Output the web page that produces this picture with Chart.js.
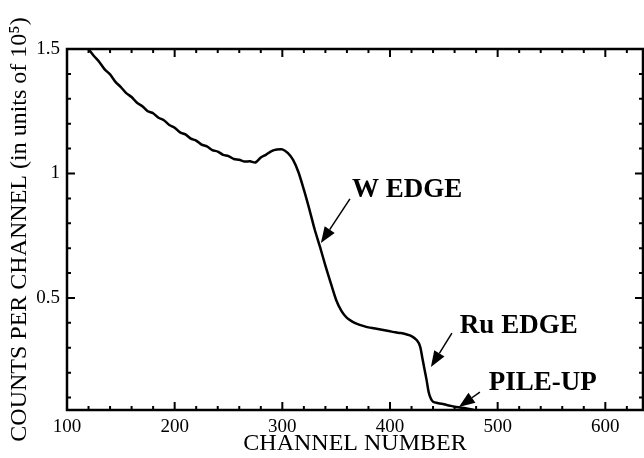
<!DOCTYPE html>
<html>
<head>
<meta charset="utf-8">
<script src="https://cdn.jsdelivr.net/npm/chart.js@4"></script>
<style>
  body { margin: 0; background: white; }
  #wrap { width: 644px; height: 458px; position: relative; }
</style>
</head>
<body>
<div id="wrap"><canvas id="espectro"></canvas></div>
<script>
// channel numbers and counts (units of 1e5)
const canales = [120,125,130,135,140,145,150,155,160,165,170,175,180,185,190,195,200,205,210,215,220,225,230,235,240,245,250,255,260,265,270,275,280,285,290,295,300,305,310,315,320,325,330,335,340,345,350,355,360,365,370,375,380,385,390,395,400,405,410,415,420,425,428,430,432,434,436,438,440,445,450,455,460,465,470,475,478];
const cuentas = [1.500,1.472,1.448,1.418,1.398,1.368,1.347,1.323,1.307,1.284,1.270,1.250,1.242,1.224,1.214,1.195,1.184,1.165,1.157,1.140,1.132,1.116,1.109,1.094,1.088,1.075,1.070,1.058,1.055,1.048,1.049,1.044,1.064,1.076,1.090,1.096,1.097,1.083,1.055,1.005,0.935,0.858,0.776,0.705,0.630,0.560,0.492,0.447,0.420,0.405,0.395,0.388,0.382,0.378,0.374,0.370,0.366,0.362,0.359,0.354,0.347,0.330,0.305,0.260,0.215,0.170,0.120,0.095,0.083,0.077,0.073,0.068,0.063,0.060,0.057,0.053,0.050];

const ticksX = [100, 200, 300, 400, 500, 600];
const ticksY = [0.5, 1, 1.5];

// labels with arrows: text position and arrow start/end in data units
const etiquetas = ['W EDGE', 'Ru EDGE', 'PILE-UP'];
const textoX = [364.6, 464.9, 491.8];
const textoY = [0.906, 0.359, 0.131];
const flechaDesdeX = [362.8, 457.5, 483.5];
const flechaDesdeY = [0.898, 0.359, 0.122];
const flechaHastaX = [335.8, 438.0, 464.0];
const flechaHastaY = [0.721, 0.223, 0.062];

const marcoYTicks = {
  id: 'marcoYTicks',
  afterDraw(chart) {
    const ctx = chart.ctx;
    const a = chart.chartArea;
    const sx = chart.scales.x, sy = chart.scales.y;
    ctx.save();
    ctx.strokeStyle = '#000';
    ctx.lineWidth = 2.5;
    ctx.strokeRect(a.left, a.top, a.right - a.left, a.bottom - a.top);
    ctx.lineWidth = 2;
    ctx.beginPath();
    for (let v = 100; v <= sx.max; v += 20) {
      const p = sx.getPixelForValue(v);
      const l = (v % 100 === 0) ? 8 : 4;
      ctx.moveTo(p, a.bottom); ctx.lineTo(p, a.bottom - l);
      ctx.moveTo(p, a.top); ctx.lineTo(p, a.top + l);
    }
    for (let k = 1; k <= 15; k++) {
      const v = k / 10;
      if (v < sy.min) continue;
      const p = sy.getPixelForValue(v);
      const l = (k % 5 === 0) ? 8 : 4;
      ctx.moveTo(a.left, p); ctx.lineTo(a.left + l, p);
      ctx.moveTo(a.right, p); ctx.lineTo(a.right - l, p);
    }
    ctx.stroke();

    // annotations
    ctx.fillStyle = '#000';
    ctx.font = 'bold 27px "Liberation Serif"';
    ctx.textAlign = 'left';
    ctx.textBaseline = 'alphabetic';
    etiquetas.forEach((t, i) => {
      ctx.fillText(t, sx.getPixelForValue(textoX[i]), sy.getPixelForValue(textoY[i]));
      const x0 = sx.getPixelForValue(flechaDesdeX[i]), y0 = sy.getPixelForValue(flechaDesdeY[i]);
      const x1 = sx.getPixelForValue(flechaHastaX[i]), y1 = sy.getPixelForValue(flechaHastaY[i]);
      const ang = Math.atan2(y1 - y0, x1 - x0);
      const largo = 16, ancho = 6;
      ctx.lineWidth = 1.5;
      ctx.beginPath();
      ctx.moveTo(x0, y0);
      ctx.lineTo(x1 - largo * Math.cos(ang), y1 - largo * Math.sin(ang));
      ctx.stroke();
      ctx.beginPath();
      ctx.moveTo(x1, y1);
      ctx.lineTo(x1 - largo * Math.cos(ang) + ancho * Math.sin(ang), y1 - largo * Math.sin(ang) - ancho * Math.cos(ang));
      ctx.lineTo(x1 - largo * Math.cos(ang) - ancho * Math.sin(ang), y1 - largo * Math.sin(ang) + ancho * Math.cos(ang));
      ctx.closePath();
      ctx.fill();
    });
    ctx.restore();
  }
};

const ctx = document.getElementById('espectro').getContext('2d');
new Chart(ctx, {
  type: 'line',
  data: {
    datasets: [{
      data: canales.map((c, i) => ({ x: c, y: cuentas[i] })),
      borderColor: '#000',
      borderWidth: 2.5,
      pointRadius: 0,
      tension: 0.25,
      fill: false
    }]
  },
  options: {
    responsive: true,
    maintainAspectRatio: false,
    animation: false,
    layout: { padding: { top: 49, right: 1, left: 0, bottom: 0 } },
    plugins: { legend: { display: false }, tooltip: { enabled: false } },
    scales: {
      x: {
        type: 'linear',
        min: 100,
        max: 635,
        grid: { display: false, drawTicks: false },
        border: { display: false },
        afterBuildTicks: s => { s.ticks = ticksX.map(v => ({ value: v })); },
        afterFit: s => { s.height = 48; },
        ticks: {
          color: '#000',
          padding: 6,
          maxRotation: 0,
          font: { family: '"Liberation Serif"', size: 19 }
        },
        title: {
          display: true,
          text: 'CHANNEL NUMBER',
          color: '#000',
          padding: 0,
          font: { family: '"Liberation Serif"', size: 24 }
        }
      },
      y: {
        type: 'linear',
        min: 0.05,
        max: 1.5,
        grid: { display: false, drawTicks: false },
        border: { display: false },
        afterBuildTicks: s => { s.ticks = ticksY.map(v => ({ value: v })); },
        afterFit: s => { s.width = 67; },
        ticks: {
          color: '#000',
          padding: 7,
          font: { family: '"Liberation Serif"', size: 19 },
          callback: v => String(v)
        },
        title: {
          display: true,
          text: 'COUNTS PER CHANNEL (in units of 10\u2075)',
          color: '#000',
          padding: { top: 5, bottom: 0 },
          font: { family: '"Liberation Serif"', size: 24 }
        }
      }
    }
  },
  plugins: [marcoYTicks]
});
</script>
</body>
</html>
